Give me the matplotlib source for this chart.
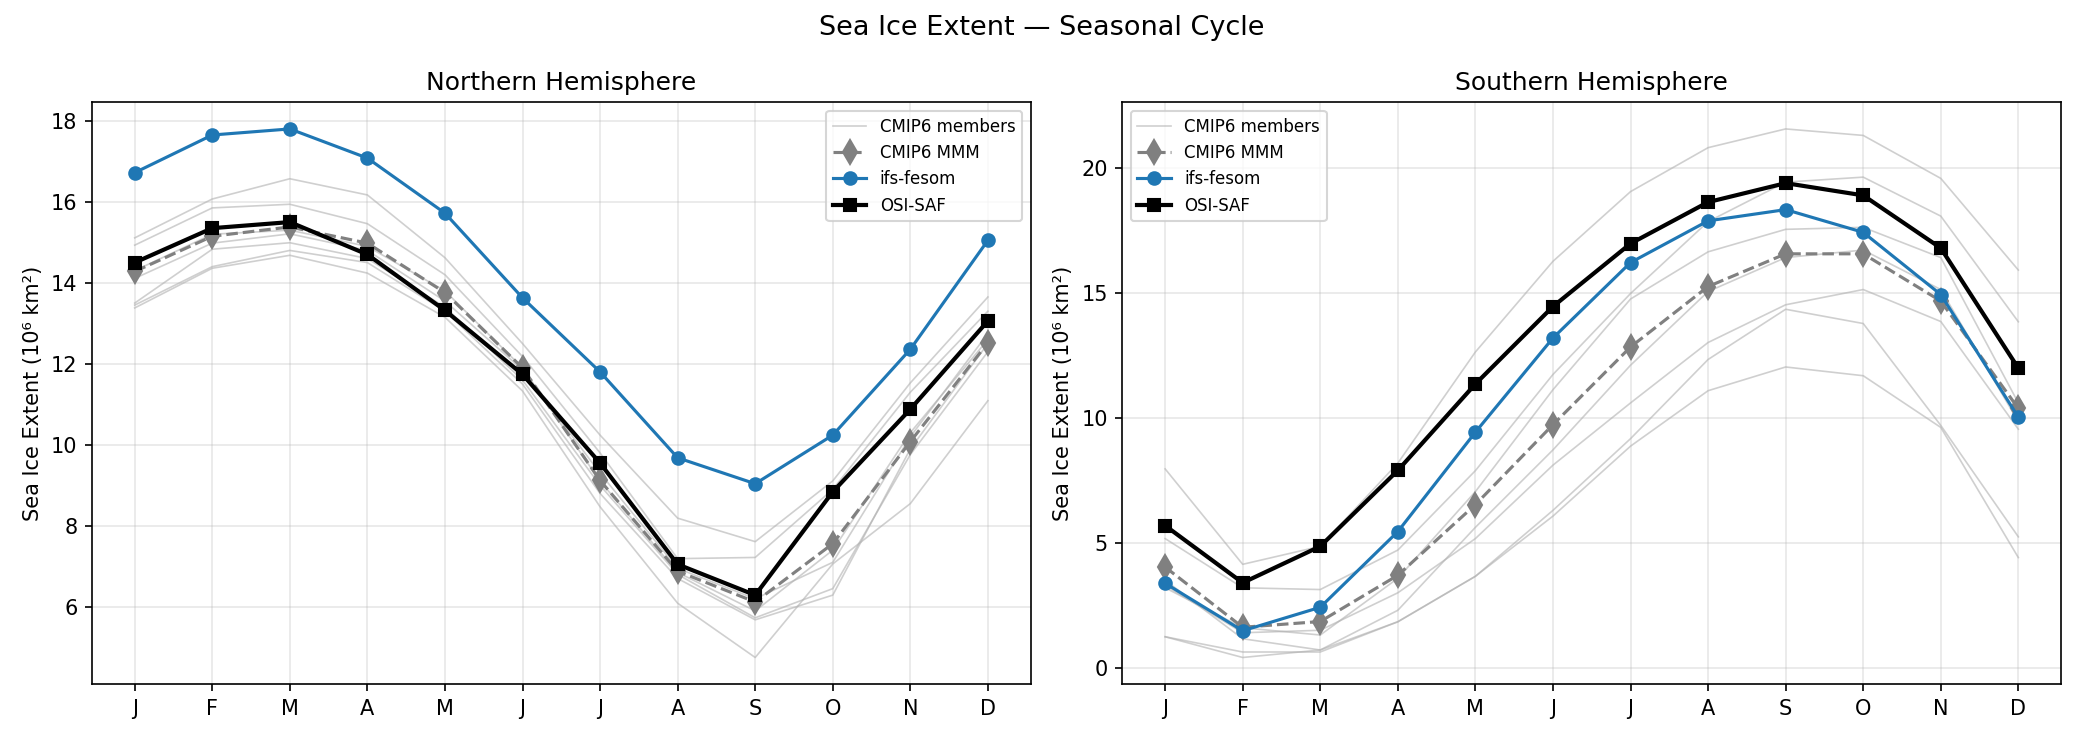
import numpy as np
import matplotlib
matplotlib.use("Agg")
import matplotlib.pyplot as plt

months = ["J", "F", "M", "A", "M", "J", "J", "A", "S", "O", "N", "D"]

# Northern Hemisphere (10^6 km^2)
nh_osisaf = [14.50, 15.35, 15.50, 14.70, 13.32, 11.74, 9.55, 7.05, 6.29, 8.84, 10.88, 13.06]
nh_fesom = [16.72, 17.65, 17.80, 17.08, 15.72, 13.63, 11.80, 9.68, 9.04, 10.24, 12.36, 15.05]
nh_mmm = [14.28, 15.15, 15.38, 14.98, 13.76, 11.90, 9.12, 6.88, 6.12, 7.56, 10.08, 12.52]
nh_members = [
    [15.11, 16.07, 16.57, 16.17, 14.62, 12.50, 10.24, 8.19, 7.61, 9.11, 11.53, 13.65],
    [14.93, 15.85, 15.94, 15.46, 14.20, 12.18, 9.80, 7.19, 7.22, 8.90, 11.30, 13.30],
    [14.11, 14.98, 15.21, 14.80, 13.55, 11.85, 9.30, 6.95, 6.20, 7.10, 10.20, 12.75],
    [13.50, 14.83, 14.99, 14.60, 13.40, 11.60, 9.00, 6.80, 5.73, 6.45, 9.76, 12.30],
    [13.45, 14.40, 14.80, 14.50, 13.30, 11.50, 8.80, 6.70, 5.68, 6.29, 9.90, 12.50],
    [13.38, 14.36, 14.68, 14.24, 13.15, 11.33, 8.47, 6.09, 4.75, 7.06, 8.55, 11.09],
    [14.30, 15.20, 15.30, 14.90, 13.80, 11.90, 9.10, 6.85, 5.90, 7.40, 10.30, 12.60],
]

# Southern Hemisphere (10^6 km^2)
sh_osisaf = [5.69, 3.40, 4.86, 7.90, 11.36, 14.46, 16.98, 18.64, 19.40, 18.91, 16.80, 11.99]
sh_fesom = [3.38, 1.48, 2.42, 5.45, 9.43, 13.20, 16.22, 17.89, 18.34, 17.43, 14.94, 10.03]
sh_mmm = [4.03, 1.62, 1.85, 3.70, 6.53, 9.73, 12.84, 15.26, 16.57, 16.57, 14.68, 10.38]
sh_members = [
    [7.96, 4.14, 4.86, 8.19, 12.64, 16.27, 19.06, 20.82, 21.57, 21.31, 19.59, 15.92],
    [5.17, 3.20, 3.13, 4.71, 7.89, 11.74, 14.98, 17.86, 19.44, 19.64, 18.08, 13.85],
    [3.20, 1.60, 1.31, 3.58, 7.05, 11.13, 14.76, 16.65, 17.55, 17.63, 16.42, 10.60],
    [3.50, 1.16, 0.71, 2.30, 5.62, 8.72, 12.11, 15.06, 16.42, 16.72, 15.14, 9.85],
    [3.30, 1.40, 1.50, 3.00, 5.17, 8.11, 10.60, 13.02, 14.53, 15.14, 13.86, 9.55],
    [1.24, 0.63, 0.63, 1.84, 3.66, 6.30, 9.17, 12.34, 14.35, 13.78, 9.70, 5.24],
    [1.24, 0.41, 0.71, 1.84, 3.66, 6.07, 8.87, 11.09, 12.04, 11.69, 9.62, 4.41],
]


def draw_panel(ax, members, mmm, fesom, osisaf, title, legend_loc):
    x = np.arange(len(months))
    for i, m in enumerate(members):
        ax.plot(x, m, color="#b0b0b0", lw=0.8, alpha=0.6,
                label="CMIP6 members" if i == 0 else None)
    ax.plot(x, mmm, color="gray", ls="--", lw=1.5, marker="d", ms=8,
            label="CMIP6 MMM")
    ax.plot(x, fesom, color="#1f77b4", lw=1.5, marker="o", ms=6,
            label="ifs-fesom")
    ax.plot(x, osisaf, color="black", lw=2, marker="s", ms=6,
            label="OSI-SAF")
    ax.set_xticks(x)
    ax.set_xticklabels(months)
    ax.set_title(title, fontsize=12)
    ax.set_ylabel("Sea Ice Extent (10⁶ km²)")
    ax.grid(alpha=0.3)
    ax.legend(loc=legend_loc, fontsize=8)


fig, (ax1, ax2) = plt.subplots(1, 2, figsize=(13.89, 4.94), dpi=150)
draw_panel(ax1, nh_members, nh_mmm, nh_fesom, nh_osisaf,
           "Northern Hemisphere", "upper right")
draw_panel(ax2, sh_members, sh_mmm, sh_fesom, sh_osisaf,
           "Southern Hemisphere", "upper left")
fig.suptitle("Sea Ice Extent — Seasonal Cycle", fontsize=13)
fig.tight_layout()
fig.savefig("out.png", dpi=150)
